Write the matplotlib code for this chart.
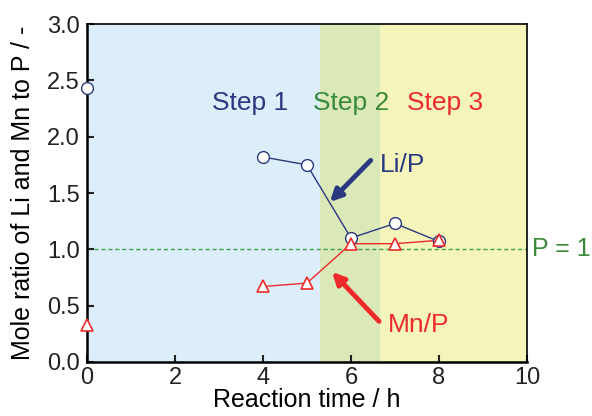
import numpy as np
import matplotlib.pyplot as plt

plt.rcParams['font.family'] = ['Liberation Sans', 'DejaVu Sans']

# data
t_li = [0, 4, 5, 6, 7, 8]
li_p = [2.43, 1.82, 1.75, 1.10, 1.23, 1.07]
t_mn = [0, 4, 5, 6, 7, 8]
mn_p = [0.33, 0.67, 0.70, 1.05, 1.05, 1.08]

steps = ['Step 1', 'Step 2', 'Step 3']
step_edges = [0, 5.3, 6.65, 10]

navy = '#2b3a80'
red = '#ee2a2a'
green = '#3a8a3a'

fig = plt.figure(figsize=(5.92, 4.16), dpi=100)
ax = fig.add_axes([0.147, 0.130, 0.743, 0.812])

bg = ['#dbeef9', '#dbe8b8', '#f5f5bb']
for i in range(3):
    ax.axvspan(step_edges[i], step_edges[i+1], color=bg[i], lw=0, zorder=0)

ax.axhline(1, ls=(0, (3, 2)), color='#3f9f4f', lw=1.0, zorder=1)
ax.text(10.12, 1.0, 'P = 1', color=green, fontsize=18, va='center', ha='left')

ax.plot(t_li[1:], li_p[1:], '-', color=navy, lw=1, zorder=2)
ax.plot(t_li, li_p, 'o', ls='none', mfc='white', mec=navy, ms=8.5, mew=1, zorder=4, clip_on=False)
ax.plot(t_mn[1:], mn_p[1:], '-', color=red, lw=1, zorder=3)
ax.plot(t_mn, mn_p, '^', ls='none', mfc='white', mec=red, ms=8.5, mew=1.2, zorder=5, clip_on=False)

step_cols = [navy, green, red]
step_x = [3.7, 6.0, 8.15]
for s, x, c in zip(steps, step_x, step_cols):
    ax.text(x, 2.3, s, color=c, fontsize=19, ha='center', va='center')

arrow = dict(arrowstyle='-|>,head_length=0.7,head_width=0.35', lw=3.5, shrinkA=0, shrinkB=0)
ax.text(6.65, 1.75, 'Li/P', color=navy, fontsize=19, ha='left', va='center')
ax.annotate('', xy=(5.52, 1.42), xytext=(6.45, 1.79), arrowprops=dict(arrow, color=navy))
ax.text(6.85, 0.33, 'Mn/P', color=red, fontsize=19, ha='left', va='center')
ax.annotate('', xy=(5.57, 0.80), xytext=(6.64, 0.36), arrowprops=dict(arrow, color=red))

ax.set_xlim(0, 10)
ax.set_ylim(0, 3)
ax.set_xticks(np.arange(0, 11, 2))
ax.set_yticks(np.arange(0, 3.01, 0.5))
ax.set_yticklabels(['%.1f' % v for v in np.arange(0, 3.01, 0.5)])
ax.tick_params(direction='in', labelsize=17, length=5, width=1.5, colors='#222222', pad=5)
ax.tick_params(axis='x', pad=4)
for sp in ['left', 'bottom']:
    ax.spines[sp].set_linewidth(1.8)
for sp in ['top', 'right']:
    ax.spines[sp].set_linewidth(1.2)
ax.set_xlabel('Reaction time / h', fontsize=18, labelpad=-1)
ax.set_ylabel('Mole ratio of Li and Mn to P / -', fontsize=18, labelpad=9)

fig.savefig('out.png', dpi=100)
